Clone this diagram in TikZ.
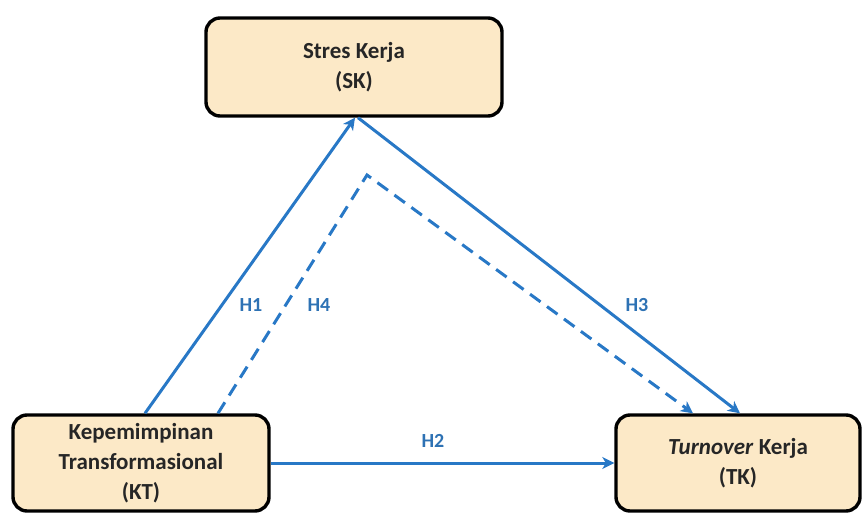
\documentclass[tikz,border=0pt]{standalone}
\usepackage{fontspec}
\setmainfont{Carlito}
\usetikzlibrary{arrows.meta,positioning}
\definecolor{boxfill}{HTML}{FCE9C7}
\definecolor{arrowblue}{HTML}{2878C6}
\definecolor{labelblue}{HTML}{2E72B4}
\tikzset{
  varbox/.style={draw=black, line width=3.4pt, fill=boxfill, rounded corners=14pt,
    align=center, font=\fontsize{23}{30}\selectfont\bfseries, text=black!85},
  link/.style={draw=arrowblue, line width=3pt, -{Stealth[length=12pt,width=12pt,inset=3.5pt]}},
  dlink/.style={link, dash pattern=on 13pt off 8pt},
  hlabel/.style={text=labelblue, font=\fontsize{20}{22}\selectfont\bfseries}
}
\begin{document}
\begin{tikzpicture}[x=1pt,y=-1pt]
\useasboundingbox (0,0) rectangle (863,513);
\node[varbox, minimum width=296pt, minimum height=98pt] (SK) at (354,67) {Stres Kerja\\(SK)};
\node[varbox, minimum width=256pt, minimum height=96pt] (KT) at (141,463) {Kepemimpinan\\Transformasional\\(KT)};
\node[varbox, minimum width=244pt, minimum height=96pt] (TK) at (738,463) {\textit{Turnover} Kerja\\(TK)};
\coordinate (apex) at (367,175);
\draw[link] ([xshift=4pt]KT.north) -- ([xshift=1pt]SK.south);
\draw[link] ([xshift=4pt]SK.south) -- ([xshift=2pt]TK.north);
\draw[dlink] ([xshift=77pt]KT.north) -- (apex) -- ([xshift=-45pt]TK.north);
\draw[link] (KT.east) -- (TK.west);
\node[hlabel] (h1) at (251,305) {H1};
\node[hlabel] (h4) at (319,305) {H4};
\node[hlabel] (h3) at (637,305) {H3};
\node[hlabel] (h2) at (433,441) {H2};
\end{tikzpicture}
\end{document}
